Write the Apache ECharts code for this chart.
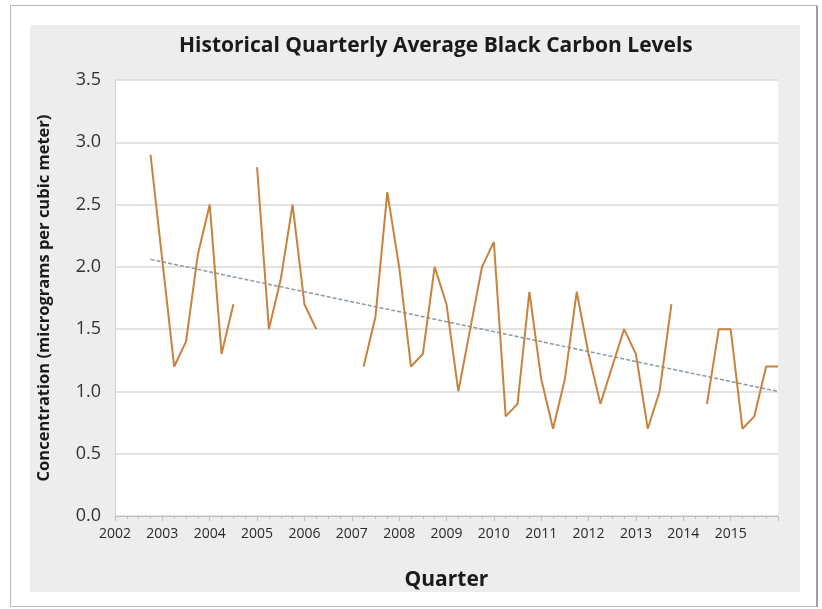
<!DOCTYPE html>
<html>
<head>
<meta charset="utf-8">
<script src="https://cdn.jsdelivr.net/npm/echarts@6/dist/echarts.min.js"></script>
<style>
  html, body { margin: 0; padding: 0; background: #ffffff; }
  #container { width: 822px; height: 609px; }
</style>
</head>
<body>
<div id="container"></div>
<script>
// quarterly averages, one entry per quarter starting 2002 Q1 (null = no data)
var firstYear = 2002
var lastYear = 2016
var yTicks = [0, 0.5, 1, 1.5, 2, 2.5, 3, 3.5]
var bcValues = [
    null, null, null, 2.9,    // 2002
    2.05, 1.2, 1.4, 2.1,      // 2003
    2.5, 1.3, 1.7, null,      // 2004
    2.8, 1.5, 1.9, 2.5,       // 2005
    1.7, 1.5, null, null,     // 2006
    null, 1.2, 1.6, 2.6,      // 2007
    2.0, 1.2, 1.3, 2.0,       // 2008
    1.7, 1.0, 1.5, 2.0,       // 2009
    2.2, 0.8, 0.9, 1.8,       // 2010
    1.1, 0.7, 1.1, 1.8,       // 2011
    1.3, 0.9, 1.2, 1.5,       // 2012
    1.3, 0.7, 1.0, 1.7,       // 2013
    null, null, 0.9, 1.5,     // 2014
    1.5, 0.7, 0.8, 1.2,       // 2015
    1.2                       // 2016
]
// linear trend line end points
var trendX = [2002.75, 2016]
var trendY = [2.06, 1.0]

var seriesData = bcValues.map(function (v, i) {
    return [firstYear + i / 4, v]
})
var trendData = trendX.map(function (x, i) { return [x, trendY[i]] })

var myChart = echarts.init(document.getElementById('container'))
var labelFont = "'Open Sans', 'Noto Sans', sans-serif"

var option = {
    animation: false,
    backgroundColor: '#ffffff',
    graphic: [
        { type: 'rect', z: -10, shape: { x: 10.5, y: 5.5, width: 807, height: 601 },
          style: { fill: '#ffffff', stroke: '#b8b8b8', lineWidth: 1 } },
        { type: 'rect', z: -10, shape: { x: 816, y: 6, width: 2, height: 601 },
          style: { fill: '#a0a0a0' } },
        { type: 'rect', z: -9, shape: { x: 30, y: 25, width: 770, height: 567 },
          style: { fill: '#ededed' } }
    ],
    title: {
        text: 'Historical Quarterly Average Black Carbon Levels',
        left: 174,
        top: 31,
        textStyle: { fontFamily: labelFont, fontSize: 21, fontWeight: 'bold', color: '#1a1a1a' }
    },
    grid: {
        left: 115, top: 80, width: 663, height: 436,
        show: true, backgroundColor: '#ffffff', borderWidth: 0
    },
    xAxis: {
        type: 'value',
        min: firstYear,
        max: lastYear,
        interval: 1,
        name: 'Quarter',
        nameLocation: 'middle',
        nameGap: 54,
        nameTextStyle: { fontFamily: labelFont, fontSize: 21, fontWeight: 'bold', color: '#1a1a1a' },
        axisLine: { lineStyle: { color: '#bfbfbf', width: 1 } },
        axisTick: { show: true, length: 5, lineStyle: { color: '#bfbfbf' } },
        minorTick: { show: true, splitNumber: 4, length: 3, lineStyle: { color: '#bfbfbf' } },
        splitLine: { show: false },
        axisLabel: {
            margin: 11,
            fontFamily: labelFont, fontSize: 14, color: '#2a2a2a',
            formatter: function (v) { return v === lastYear ? '' : String(v) }
        }
    },
    yAxis: {
        type: 'value',
        min: yTicks[0],
        max: yTicks[yTicks.length - 1],
        interval: 0.5,
        name: 'Concentration (micrograms per cubic meter)',
        nameLocation: 'middle',
        nameGap: 62,
        nameTextStyle: { fontFamily: labelFont, fontSize: 16.5, fontWeight: 'bold', color: '#1a1a1a' },
        axisLine: { show: true, lineStyle: { color: '#d0d0d0' } },
        axisTick: { show: false },
        splitLine: { lineStyle: { color: '#d9d9d9', width: 1.5 } },
        axisLabel: {
            margin: 14,
            fontFamily: labelFont, fontSize: 18, color: '#333333',
            formatter: function (v) { return v.toFixed(1) }
        }
    },
    series: [
        {
            type: 'line',
            name: 'Black Carbon',
            data: seriesData,
            connectNulls: false,
            showSymbol: false,
            lineStyle: { color: '#c8813f', width: 2 },
            z: 3
        },
        {
            type: 'line',
            name: 'Trend',
            data: trendData,
            showSymbol: false,
            lineStyle: { color: '#8a98a6', width: 1.5, type: [4, 2] },
            z: 2
        }
    ]
}
myChart.setOption(option)
</script>
</body>
</html>
